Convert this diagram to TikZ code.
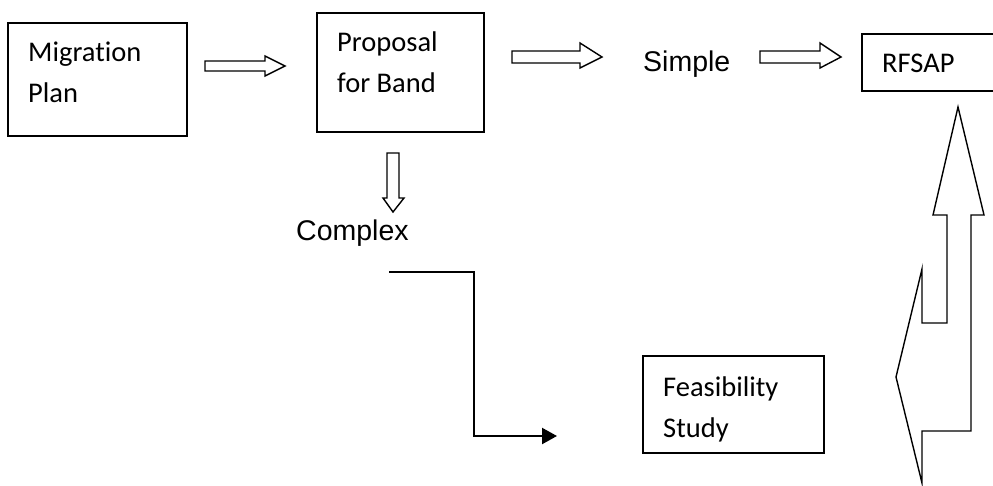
\documentclass[tikz,border=0pt]{standalone}
\usepackage{fontspec}
\setmainfont[Ligatures=NoCommon]{Carlito}
\newfontfamily\arialf{Liberation Sans}
\usetikzlibrary{arrows.meta}
\begin{document}
\begin{tikzpicture}[x=1pt,y=-1pt,
  boxnode/.style={draw,line width=1.6pt,inner sep=0pt,anchor=north west},
  txt/.style={inner sep=0pt,anchor=base west,align=left,font=\fontsize{28.5}{41}\selectfont},
  atxt/.style={inner sep=0pt,anchor=base west,font=\arialf\fontsize{28.5}{34}\selectfont},
  blockarrow/.style={draw,line width=1.4pt,line join=miter},
  elbow/.style={draw,line width=2.2pt,-{Triangle[length=15pt,width=16pt]}}]
\useasboundingbox (0,0) rectangle (993,485);
\clip (0,0) rectangle (993,485);
% boxes
\node[boxnode,minimum width=179pt,minimum height=113pt] (mp) at (7,22) {};
\node[txt] (mpt) at (28,102) {Migration\\Plan};
\node[boxnode,minimum width=167pt,minimum height=119pt] (pb) at (316,12) {};
\node[txt] (pbt) at (337,92) {Proposal\\for Band};
\node[boxnode,minimum width=160pt,minimum height=57pt] (rf) at (861,33) {};
\node[txt] (rft) at (882,72) {RFSAP};
\node[boxnode,minimum width=181pt,minimum height=97pt] (fs) at (642,355) {};
\node[txt] (fst) at (663,437) {Feasibility\\Study};
\node[atxt] (simple) at (643,71) {Simple};
\node[atxt] (complex) at (296,240) {Complex};
% block arrows
\draw[blockarrow] (205,61) -- (265,61) -- (265,56) -- (285,66) -- (265,76) -- (265,71) -- (205,71) -- cycle;
\draw[blockarrow] (512,51) -- (580,51) -- (580,43) -- (602,57) -- (580,68) -- (580,63) -- (512,63) -- cycle;
\draw[blockarrow] (760,51) -- (820,51) -- (820,43) -- (841,57) -- (820,68) -- (820,63) -- (760,63) -- cycle;
\draw[blockarrow] (387,153) -- (399,153) -- (399,198) -- (404,198) -- (393,212) -- (383,198) -- (387,198) -- cycle;
% U-turn arrow
\draw[blockarrow] (958,107) -- (984,215) -- (971,215) -- (971,431) -- (922,431) -- (922,483)
  -- (896,377) -- (922,269) -- (922,323) -- (947,323) -- (947,215) -- (933,215) -- cycle;
% elbow connector
\coordinate (e0) at (389,272);
\coordinate (e1) at (557,436);
\draw[elbow] (e0) -- (474,272) -- (474,436) -- (e1);
\end{tikzpicture}
\end{document}
